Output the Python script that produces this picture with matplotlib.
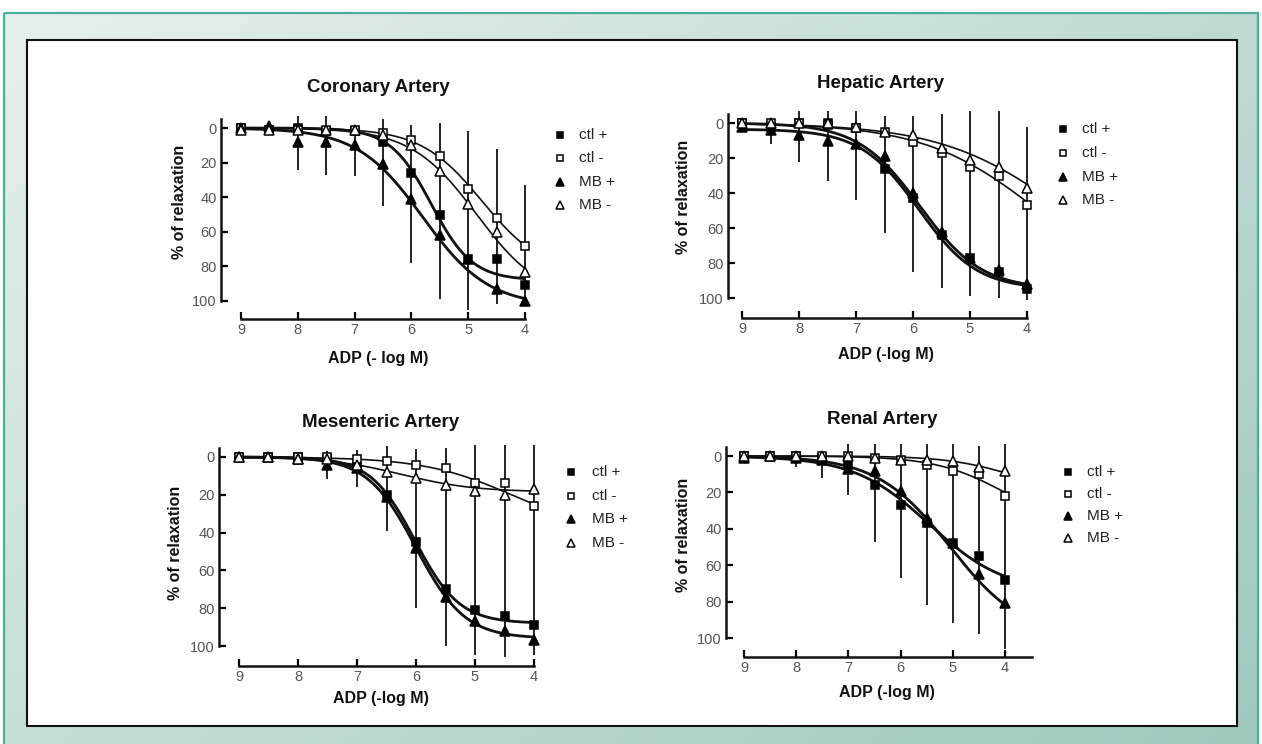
import numpy as np
import matplotlib
matplotlib.use("Agg")
import matplotlib.pyplot as plt
from matplotlib.lines import Line2D
from matplotlib.patches import Rectangle

plt.rcParams['font.family'] = ['Liberation Sans', 'DejaVu Sans']

W, H, DPI = 1262, 744, 100
nan = np.nan

# ---------------- data ----------------
log_conc = [9, 8.5, 8, 7.5, 7, 6.5, 6, 5.5, 5, 4.5, 4]   # ADP (-log M)
x_ticks = [9, 8, 7, 6, 5, 4]
y_ticks = [0, 20, 40, 60, 80, 100]
series_labels = ["ctl +", "ctl -", "MB +", "MB -"]
titles = ["Coronary Artery", "Hepatic Artery", "Mesenteric Artery", "Renal Artery"]
xlabels = ["ADP (- log M)", "ADP (-log M)", "ADP (-log M)", "ADP (-log M)"]
ylabel = "% of relaxation"

# Coronary
cor_ctl_pos = [0, 1, 0, 2, 2, 8, 26, 50, 76, 76, 91]
cor_ctl_neg = [0, 1, 1, 1, 1, 3, 7, 16, 35, 52, 68]
cor_mb_pos = [0, -1, 8, 8, 10, 21, 41, 62, 76, 93, 100]
cor_mb_neg = [1, 1, 1, 1, 1, 4, 10, 25, 44, 60, 83]
cor_err_top = [nan, nan, -9, -10, -1, -5, -2, -3, 2, 12, 33]
cor_err_bot = [nan, nan, 24, 27, 28, 45, 78, 99, 105, 102, 102]
# fitted curves: (bottom, top, pEC50, hill)
cor_fit_ctl_pos = (0, 88, 5.65, 1.2)
cor_fit_ctl_neg = (0, 85, 4.75, 0.8)
cor_fit_mb_pos = (0, 103, 5.8, 0.75)
cor_fit_mb_neg = (0, 100, 4.85, 0.75)

# Hepatic
hep_ctl_pos = [0, 2, 0, 0, 3, 26, 43, 64, 77, 85, 95]
hep_ctl_neg = [0, 0, 0, 1, 3, 5, 11, 17, 25, 30, 47]
hep_mb_pos = [2, 4, 7, 10, 12, 19, 40, 62, 77, 84, 92]
hep_mb_neg = [0, 0, 0, 0, 2, 5, 7, 14, 21, 25, 37]
hep_err_top = [nan, -2, -7, -13, -13, -4, -4, -5, -9, -8, 2]
hep_err_bot = [nan, 12, 22, 33, 44, 63, 85, 94, 99, 100, 101]
hep_fit_ctl_pos = (0, 95, 5.88, 0.8)
hep_fit_ctl_neg = (0, 100, 3.8, 0.43)
hep_fit_mb_pos = (3.5, 95, 5.9, 0.85)
hep_fit_mb_neg = (0, 100, 3.33, 0.4)

# Mesenteric
mes_ctl_pos = [0, 0, 0, 1, 5, 20, 45, 70, 81, 84, 89]
mes_ctl_neg = [0, 0, 0, 0, 1, 2, 4, 6, 14, 14, 26]
mes_mb_pos = [0, 0, 1, 4, 6, 21, 48, 74, 87, 92, 97]
mes_mb_neg = [0, 0, 1, 1, 4, 8, 11, 15, 18, 20, 17]
mes_err_top = [nan, nan, nan, -3, -3.5, -6, -4, -5, -10, -14, -11]
mes_err_bot = [nan, nan, nan, 11.5, 16, 39, 80, 100, 105, 106, 105]
mes_fit_ctl_pos = (0, 88, 6.02, 1.15)
mes_fit_ctl_neg = (0, 40, 4.38, 0.58)
mes_fit_mb_pos = (0, 96, 6.0, 1.05)
mes_fit_mb_neg = (0, 18.5, 6.24, 0.7)

# Renal
ren_ctl_pos = [0, 0, 0, 1, 5, 16, 27, 37, 48, 55, 68]
ren_ctl_neg = [0, 0, 0, 0, 0, 1, 2, 5, 8, 10, 22]
ren_mb_pos = [1, 0, 1, 2, 7, 8, 19, 34, 48, 65, 81]
ren_mb_neg = [0, 0, 0, 0, 0, 1, 2, 2, 3, 6, 8]
ren_err_top = [nan, nan, -3, -2, -7, -11.5, -13, -7, -7, -5.5, -7]
ren_err_bot = [nan, nan, 6, 12, 21.5, 47, 67, 82, 92, 98, 106]
ren_fit_ctl_pos = (0, 75, 5.45, 0.6)
ren_fit_ctl_neg = (0, 40, 4.0, 0.65)
ren_fit_mb_pos = (0, 100, 5.05, 0.62)
ren_fit_mb_neg = (0, 20, 3.9, 0.7)

# ---------------- layout (pixels) ----------------
# x9, x4, y0, y100, y-spine x, x-spine y, right edge
panels = [
    dict(px=(241, 525, 128, 301, 221, 319, 533), title_xy=(378, 87), xl_xy=(378, 358), yl_xy=(180, 202),
         leg=(560, 579, 135, 23.3),
         data=[cor_ctl_pos, cor_ctl_neg, cor_mb_pos, cor_mb_neg],
         fits=[cor_fit_ctl_pos, cor_fit_ctl_neg, cor_fit_mb_pos, cor_fit_mb_neg],
         err=(cor_err_top, cor_err_bot)),
    dict(px=(742, 1027, 123, 298, 728, 318, 1035), title_xy=(880, 83), xl_xy=(886, 354), yl_xy=(683, 197),
         leg=(1063, 1082, 129, 23.8),
         data=[hep_ctl_pos, hep_ctl_neg, hep_mb_pos, hep_mb_neg],
         fits=[hep_fit_ctl_pos, hep_fit_ctl_neg, hep_fit_mb_pos, hep_fit_mb_neg],
         err=(hep_err_top, hep_err_bot)),
    dict(px=(239, 534, 457, 646, 219, 666, 542), title_xy=(381, 422), xl_xy=(381, 699), yl_xy=(175, 543),
         leg=(571, 592, 472, 23.7),
         data=[mes_ctl_pos, mes_ctl_neg, mes_mb_pos, mes_mb_neg],
         fits=[mes_fit_ctl_pos, mes_fit_ctl_neg, mes_fit_mb_pos, mes_fit_mb_neg],
         err=(mes_err_top, mes_err_bot)),
    dict(px=(744, 1005, 456, 638, 726, 657, 1033), title_xy=(882, 419), xl_xy=(887, 692), yl_xy=(683, 535),
         leg=(1068, 1087, 472, 22.0),
         data=[ren_ctl_pos, ren_ctl_neg, ren_mb_pos, ren_mb_neg],
         fits=[ren_fit_ctl_pos, ren_fit_ctl_neg, ren_fit_mb_pos, ren_fit_mb_neg],
         err=(ren_err_top, ren_err_bot)),
]

styles = [
    dict(marker='s', mfc='black', ms=5.5, lw=2.0),
    dict(marker='s', mfc='white', ms=5.5, lw=1.2),
    dict(marker='^', mfc='black', ms=6.5, lw=2.0),
    dict(marker='^', mfc='white', ms=6.5, lw=1.2),
]

fig = plt.figure(figsize=(W / DPI, H / DPI), dpi=DPI)
fig.patch.set_facecolor('white')

# background
bg = fig.add_axes([0, 0, 1, 1], zorder=-10)
bg.set_xlim(0, W)
bg.set_ylim(H, 0)
bg.axis('off')
gx, gy = np.meshgrid(np.linspace(0, 1, 300), np.linspace(0, 1, 200))
t = np.clip(0.55 * gx + 0.45 * gy, 0, 1)
c0 = np.array([0xe6, 0xf0, 0xed]) / 255.0
c1 = np.array([0x9f, 0xc8, 0xbf]) / 255.0
img = c0[None, None, :] * (1 - t[..., None]) + c1[None, None, :] * t[..., None]
bg.imshow(img, extent=(4, 1258, 744, 13), aspect='auto', interpolation='bilinear', zorder=0)
bg.add_patch(Rectangle((4, 13), 1254, 760, fill=False, ec='#4aae9b', lw=1.6, zorder=1))
bg.add_patch(Rectangle((27, 40), 1210, 686, fc='white', ec='#111111', lw=1.5, zorder=2))


def px2fig(x, y):
    return x / W, 1 - y / H


def sigmoid(xs, p):
    b, top, pec, h = p
    return b + (top - b) / (1 + 10 ** ((xs - pec) * h))


xs_curve = np.linspace(9, 4, 300)

for i, P in enumerate(panels):
    x9, x4, y0, y100, ysp, xsp, xright = P['px']
    sx = (x4 - x9) / 5.0
    sy = (y100 - y0) / 100.0
    top_px = y0 - 12
    ax = fig.add_axes([ysp / W, 1 - xsp / H, (xright - ysp) / W, (xsp - top_px) / H], zorder=5)
    ax.set_facecolor('none')
    ax.set_xlim(9 + (x9 - ysp) / sx, 4 - (xright - x4) / sx)
    ax.set_ylim(100 + (xsp - y100) / sy, -(y0 - top_px) / sy)
    for s in ('top', 'right'):
        ax.spines[s].set_visible(False)
    ax.spines['left'].set_bounds(100, -5)
    xend = 4 if i != 3 else 4 - (1032 - x4) / sx
    ax.spines['bottom'].set_bounds(9, xend)
    for s in ('left', 'bottom'):
        ax.spines[s].set_linewidth(1.8)
        ax.spines[s].set_color('#111111')
    ax.set_xticks(x_ticks)
    ax.set_xticklabels([str(v) for v in x_ticks])
    ax.set_yticks(y_ticks)
    ax.set_yticklabels([str(v) for v in y_ticks])
    ax.tick_params(axis='y', direction='in', length=5, width=1.6, pad=3, labelsize=10.5, labelcolor='#555555')
    ax.tick_params(axis='x', direction='in', length=5, width=1.6, pad=3, labelsize=10.5, labelcolor='#555555')

    et, eb = P['err']
    for xv, a, b in zip(log_conc, et, eb):
        if not np.isnan(a):
            ax.vlines(xv, a, b, color='#111111', lw=1.3, zorder=2)
    for fitp, st in zip(P['fits'], styles):
        ax.plot(xs_curve, sigmoid(xs_curve, fitp), color='#111111', lw=st['lw'], zorder=3,
                solid_capstyle='butt')
    for ys, st in zip(P['data'], styles):
        ax.plot(log_conc, ys, linestyle='none', marker=st['marker'], ms=st['ms'],
                mfc=st['mfc'], mec='black', mew=1.1, zorder=4, clip_on=False)

    tx, ty = px2fig(*P['title_xy'])
    fig.text(tx, ty, titles[i], ha='center', va='center', fontsize=13.5, fontweight='bold', color='#111111')
    lx, ly = px2fig(*P['xl_xy'])
    fig.text(lx, ly, xlabels[i], ha='center', va='center', fontsize=11.5, fontweight='bold', color='#111111')
    yx, yy = px2fig(*P['yl_xy'])
    fig.text(yx, yy, ylabel, ha='center', va='center', rotation=90, fontsize=11.5, fontweight='bold',
             color='#111111')

    mx, tx0, ry, dy = P['leg']
    for k, (lab, st) in enumerate(zip(series_labels, styles)):
        yk = ry + k * dy
        fx, fy = px2fig(mx, yk)
        fig.add_artist(Line2D([fx], [fy], marker=st['marker'], ms=st['ms'] - 1, mfc=st['mfc'],
                              mec='black', mew=1.1, linestyle='none', transform=fig.transFigure, zorder=6))
        gx0, gy0 = px2fig(tx0, yk)
        fig.text(gx0, gy0, lab, ha='left', va='center', fontsize=11, color='#222222')

fig.savefig('out.png', dpi=DPI)
